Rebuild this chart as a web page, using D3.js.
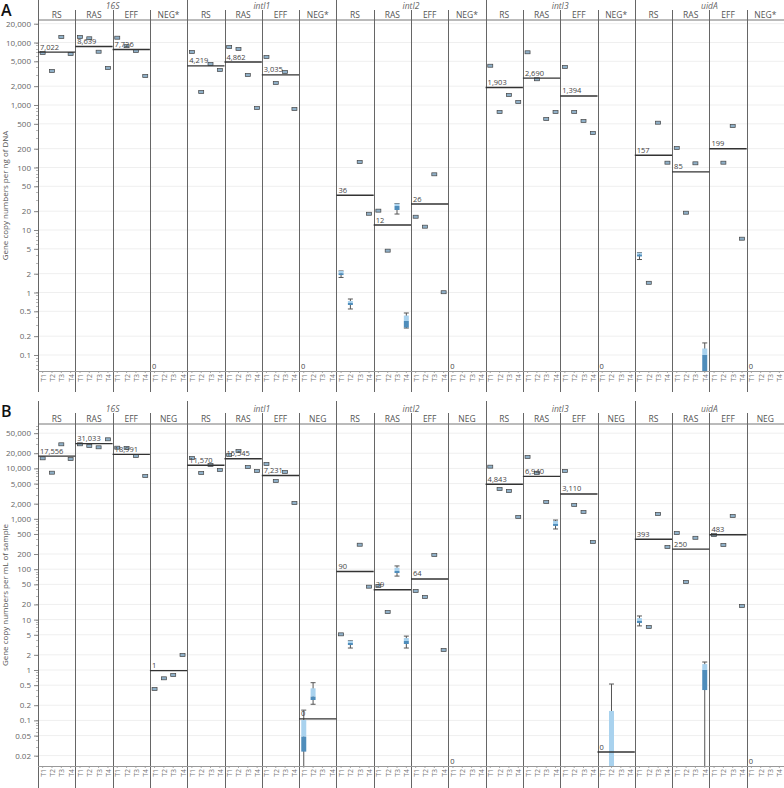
<!DOCTYPE html>
<html>
<head>
<meta charset="utf-8">
<script src="https://cdn.jsdelivr.net/npm/d3@7"></script>
<style>
body { margin: 0; background: #fff; font-family: "Open Sans", "Noto Sans", sans-serif; }
</style>
</head>
<body>
<div id="chart"></div>
<script>
const genes = ['16S', 'intI1', 'intI2', 'intI3', 'uidA'];
const groups = ['RS', 'RAS', 'EFF', 'NEG'];
const times = ['T1', 'T2', 'T3', 'T4'];

// panel A: gene copies per ng of DNA, [gene][group] -> T1..T4 medians
const dnaValues = [
    [[6790, 3500, 12240, 6540], [12240, 11680, 7120, 3910], [11940, 8740, 7310, 2910], [null, null, null, null]],
    [[7050, 1615, 4530, 3630], [8470, 7870, 3020, 895], [5860, 2250, 3370, 863], [null, null, null, null]],
    [[2.03, 0.68, 122.5, 18.2], [20.4, 4.67, 24.2, 0.35], [16.3, 11.3, 77.8, 1.01], [null, null, null, null]],
    [[4250, 773, 1445, 1117], [6970, 2580, 597, 773], [4055, 773, 555, 356], [null, null, null, null]],
    [[4.05, 1.43, 521, 119.4], [205, 18.9, 116.7, 0.1], [null, 119.4, 461, 7.26], [null, null, null, null]]
];
const dnaMeans = [
    [7022, 8639, 7726, 0],
    [4219, 4862, 3035, 0],
    [36, 12, 26, 0],
    [1903, 2690, 1394, 0],
    [157, 85, 199, 0]
];
// boxes with visible spread: gene, group, time, lo, q1, q3, hi
const dnaBoxes = [
    [2, 0, 0, 1.74, 1.9, 2.21, 2.21],
    [2, 0, 1, 0.545, 0.631, 0.731, 0.787],
    [2, 1, 2, 18.0, 20.9, 26.5, 26.5],
    [2, 1, 3, 0.27, 0.275, 0.428, 0.47],
    [4, 0, 0, 3.37, 3.77, 4.34, 4.34],
    [4, 1, 3, 0.01, 0.02, 0.127, 0.156]
];

// panel B: gene copies per mL of sample
const mlValues = [
    [[15850, 8220, 30070, 15370], [30070, 27800, 26220, 37770], [25760, 25520, 17620, 7060], [0.42, 0.684, 0.796, 1.985]],
    [[16080, 8110, 11680, 9290], [18450, 22140, 10660, 8880], [12230, 5620, 8490, 2056], [0.0475, 0.296, null, null]],
    [[5.1, 3.43, 306, 45], [46.4, 14.1, 92, 3.76], [36.9, 28.1, 191, 2.49], [null, null, null, null]],
    [[10825, 3900, 3560, 1087], [16830, 8110, 2150, 789], [8880, 1880, 1365, 347], [null, 0.008, null, null]],
    [[9.38, 7.13, 1245, 276], [520, 55.7, 420, 1.0], [474, 302, 1137, 18.6], [null, null, null, null]]
];
const mlMeans = [
    [17556, 31033, 18991, 0.97],
    [11570, 15545, 7231, 0.107],
    [90, 39, 64, 0],
    [4843, 6940, 3110, 0.0236],
    [393, 250, 483, 0]
];
const mlBoxes = [
    [1, 3, 0, 0.004, 0.024, 0.102, 0.16],
    [1, 3, 1, 0.209, 0.254, 0.433, 0.56],
    [2, 0, 1, 2.73, 3.13, 3.81, 3.81],
    [2, 1, 2, 73, 84, 107, 116],
    [2, 1, 3, 2.73, 3.28, 4.3, 4.7],
    [3, 1, 3, 628, 722, 905, 944],
    [3, 3, 1, 0.002, 0.004, 0.154, 0.527],
    [4, 0, 0, 7.5, 8.57, 10.7, 11.8],
    [4, 1, 3, 0.004, 0.4, 1.31, 1.44]
];

const dnaTicks = [0.1, 0.2, 0.5, 1, 2, 5, 10, 20, 50, 100, 200, 500, 1000, 2000, 5000, 10000, 20000];
const mlTicks = [0.02, 0.05, 0.1, 0.2, 0.5, 1, 2, 5, 10, 20, 50, 100, 200, 500, 1000, 2000, 5000, 10000, 20000, 50000];

var width = 784, height = 788;
var left = 38;

var panels = [
    { letter: 'A', headTop: 0, catTop: 10, geneY: 9, catY: 18, top: 20, bottom: 371, end: 392,
      domain: [0.05546, 22909], ticks: dnaTicks, title: 'Gene copy numbers per ng of DNA',
      values: dnaValues, means: dnaMeans, boxes: dnaBoxes, neg: 'NEG*' },
    { letter: 'B', headTop: 401, catTop: 413, geneY: 412, catY: 422, top: 424, bottom: 766, end: 788,
      domain: [0.01245, 76030], ticks: mlTicks, title: 'Gene copy numbers per mL of sample',
      values: mlValues, means: mlMeans, boxes: mlBoxes, neg: 'NEG' }
];

var svg = d3.select('#chart').append('svg')
    .attr('width', width)
    .attr('height', height)
    .style('font-family', '"Open Sans", "Noto Sans", sans-serif');

var cols = [];
genes.forEach(function (g) { groups.forEach(function (c) { cols.push(g + '|' + c); }); });

var x = d3.scaleBand().domain(cols).range([left, width]);
var xt = d3.scaleBand().domain(times).range([0, x.bandwidth()]);
var fmt = d3.format(',');
var meanFmt = d3.format(',.0f');

var lightBlue = '#a9d2ee', darkBlue = '#4f8dbb', ink = '#555';

panels.forEach(function (p) {
    var y = d3.scaleLog().domain(p.domain).range([p.bottom, p.top]);
    var g = svg.append('g');

    // panel letter
    g.append('text').attr('x', 1).attr('y', p.headTop + 16)
        .attr('font-size', 16).attr('font-weight', 600).attr('fill', '#111')
        .text(p.letter);

    // axis title
    g.append('text')
        .attr('transform', 'translate(8,' + ((p.top + p.bottom) / 2) + ') rotate(-90)')
        .attr('text-anchor', 'middle').attr('font-size', 8).attr('fill', ink)
        .text(p.title);

    // gridlines
    g.append('g').selectAll('line').data(p.ticks).enter().append('line')
        .attr('x1', left).attr('x2', width)
        .attr('y1', function (d) { return y(d); }).attr('y2', function (d) { return y(d); })
        .attr('stroke', '#efefef').attr('stroke-width', 1);

    // y axis with minor ticks
    var minor = y.ticks(40).filter(function (d) { return d >= p.domain[0] && d <= p.domain[1]; });
    g.append('g').selectAll('line').data(minor).enter().append('line')
        .attr('x1', left - 2).attr('x2', left)
        .attr('y1', function (d) { return Math.round(y(d)) + 0.5; })
        .attr('y2', function (d) { return Math.round(y(d)) + 0.5; })
        .attr('stroke', '#999').attr('stroke-width', 0.7);
    var axis = d3.axisLeft(y).tickValues(p.ticks).tickFormat(fmt).tickSize(4).tickSizeOuter(0);
    var ag = g.append('g').attr('transform', 'translate(' + left + ',0)').call(axis);
    ag.select('.domain').remove();
    ag.selectAll('line').attr('stroke', '#888');
    ag.selectAll('text').attr('font-size', 8).attr('fill', '#666')
        .style('font-family', '"Open Sans", "Noto Sans", sans-serif');

    // header texts
    genes.forEach(function (gn) {
        var x0 = x(gn + '|RS'), x1 = x(gn + '|NEG') + x.bandwidth();
        g.append('text').attr('x', (x0 + x1) / 2).attr('y', p.geneY)
            .attr('text-anchor', 'middle').attr('font-size', 8.5).attr('font-style', 'italic')
            .attr('fill', '#666').text(gn);
        groups.forEach(function (c) {
            g.append('text').attr('x', x(gn + '|' + c) + x.bandwidth() / 2).attr('y', p.catY)
                .attr('text-anchor', 'middle').attr('font-size', 8.5).attr('fill', '#555')
                .text(c === 'NEG' ? p.neg : c);
        });
    });

    // header rule
    g.append('line').attr('x1', left).attr('x2', width)
        .attr('y1', p.top).attr('y2', p.top).attr('stroke', '#777').attr('stroke-width', 1);

    // column separators
    cols.forEach(function (k, i) {
        var isGene = i % 4 === 0;
        g.append('line')
            .attr('x1', Math.round(x(k)) + 0.5).attr('x2', Math.round(x(k)) + 0.5)
            .attr('y1', isGene ? p.headTop : p.catTop).attr('y2', p.end)
            .attr('stroke', '#666').attr('stroke-width', 1);
    });

    // T tick labels under each column
    cols.forEach(function (k) {
        times.forEach(function (t) {
            var cx = x(k) + xt(t) + xt.bandwidth() / 2;
            g.append('line').attr('x1', cx).attr('x2', cx)
                .attr('y1', p.bottom).attr('y2', p.bottom + 2).attr('stroke', '#aaa');
            g.append('text')
                .attr('transform', 'translate(' + (cx + 3) + ',' + (p.bottom + 3) + ') rotate(-90)')
                .attr('text-anchor', 'end').attr('font-size', 7).attr('fill', '#777')
                .text(t);
        });
    });

    // plot bottom rule
    g.append('line').attr('x1', left).attr('x2', width)
        .attr('y1', p.bottom + 0.5).attr('y2', p.bottom + 0.5).attr('stroke', '#999');

    // clip region for marks
    var clipId = 'clip' + p.letter;
    svg.append('clipPath').attr('id', clipId).append('rect')
        .attr('x', left).attr('y', p.top).attr('width', width - left).attr('height', p.bottom - p.top);
    var marks = g.append('g').attr('clip-path', 'url(#' + clipId + ')');

    // points
    var boxLookup = {};
    p.boxes.forEach(function (b) { boxLookup[b[0] + '-' + b[1] + '-' + b[2]] = b; });

    p.values.forEach(function (byGroup, gi) {
        byGroup.forEach(function (vals, ci) {
            var key = genes[gi] + '|' + groups[ci];
            vals.forEach(function (v, ti) {
                if (v === null) return;
                var cx = x(key) + xt(times[ti]) + xt.bandwidth() / 2;
                var b = boxLookup[gi + '-' + ci + '-' + ti];
                if (b) {
                    var lo = b[3], q1 = b[4], q3 = b[5], hi = b[6];
                    marks.append('line').attr('x1', cx).attr('x2', cx)
                        .attr('y1', y(lo)).attr('y2', y(hi)).attr('stroke', ink).attr('stroke-width', 1);
                    [lo, hi].forEach(function (w) {
                        marks.append('line').attr('x1', cx - 2.5).attr('x2', cx + 2.5)
                            .attr('y1', y(w)).attr('y2', y(w)).attr('stroke', ink).attr('stroke-width', 1);
                    });
                    marks.append('rect').attr('x', cx - 2.5).attr('width', 5)
                        .attr('y', y(q3)).attr('height', Math.max(1, y(v) - y(q3)))
                        .attr('fill', lightBlue);
                    marks.append('rect').attr('x', cx - 2.5).attr('width', 5)
                        .attr('y', y(v)).attr('height', Math.max(1, y(q1) - y(v)))
                        .attr('fill', darkBlue);
                } else {
                    marks.append('rect').attr('x', cx - 2.5).attr('width', 5)
                        .attr('y', y(v) - 1.5).attr('height', 3)
                        .attr('fill', '#8fb0c8').attr('stroke', '#444').attr('stroke-width', 0.7);
                }
            });
        });
    });

    // group mean lines + labels
    p.means.forEach(function (row, gi) {
        row.forEach(function (m, ci) {
            var key = genes[gi] + '|' + groups[ci];
            var x0 = x(key);
            if (m > 0 && m >= p.domain[0]) {
                g.append('line').attr('x1', x0).attr('x2', x0 + x.bandwidth())
                    .attr('y1', y(m)).attr('y2', y(m)).attr('stroke', '#333').attr('stroke-width', 1.4);
                g.append('text').attr('x', x0 + 2).attr('y', y(m) - 2.5)
                    .attr('font-size', 7.5).attr('fill', '#444').text(meanFmt(m));
            } else {
                g.append('text').attr('x', x0 + 2).attr('y', p.bottom - 2)
                    .attr('font-size', 7.5).attr('fill', '#444').text(meanFmt(m));
            }
        });
    });
});
</script>
</body>
</html>
